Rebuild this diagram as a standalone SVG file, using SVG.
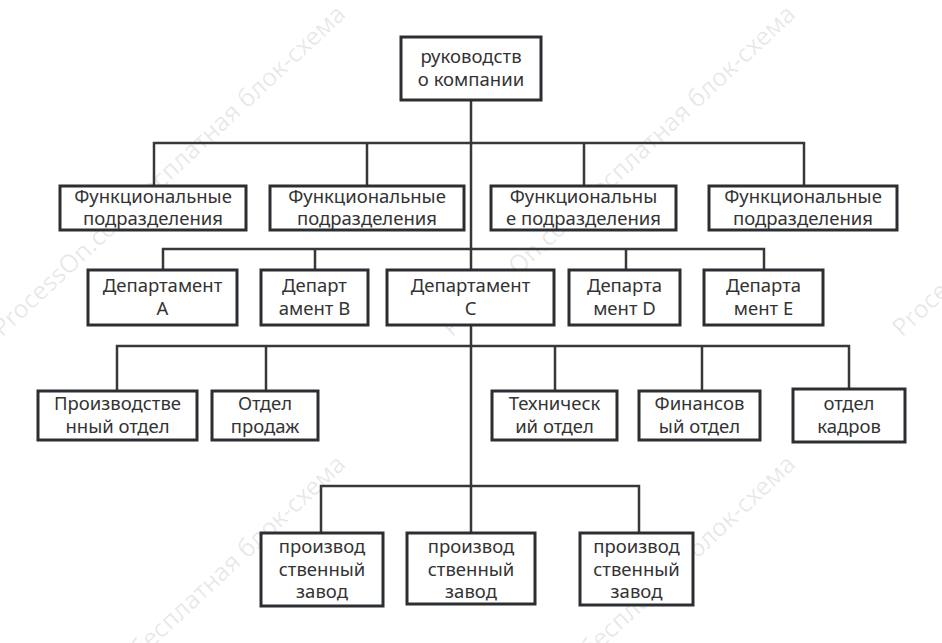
<svg xmlns="http://www.w3.org/2000/svg" width="942" height="643" viewBox="0 0 942 643">
<style>
.bg{fill:#ffffff}
.wm{font-family:"Noto Sans","Open Sans",sans-serif;font-size:25px;fill:#000;fill-opacity:0.09}
.box{fill:#ffffff;stroke:#2b2f33;stroke-width:3}
.lbl{font-family:"Noto Sans","Open Sans","DejaVu Sans",sans-serif;font-size:18.5px;fill:#333333;text-anchor:middle}
.con{fill:none;stroke:#383838;stroke-width:2.5}
</style>
<rect class="bg" x="0" y="0" width="942" height="643"/>
<g id="watermark">
<text class="wm" transform="translate(2,338) rotate(-43)">ProcessOn.com бесплатная блок-схема</text>
<text class="wm" transform="translate(452,338) rotate(-43)">ProcessOn.com бесплатная блок-схема</text>
<text class="wm" transform="translate(902,338) rotate(-43)">ProcessOn.com бесплатная блок-схема</text>
<text class="wm" transform="translate(2,788) rotate(-43)">ProcessOn.com бесплатная блок-схема</text>
<text class="wm" transform="translate(452,788) rotate(-43)">ProcessOn.com бесплатная блок-схема</text>
</g>
<g id="connectors">
<path class="con" d="M471,100 V533"/>
<path class="con" d="M154,186 V143 H804 V186 M367,143 V186 M584,143 V186"/>
<path class="con" d="M163,270 V249 H764 V270 M315,249 V270 M626,249 V270"/>
<path class="con" d="M117,391 V346 H849 V389 M266,346 V391 M555,346 V391 M702,346 V391"/>
<path class="con" d="M321,533 V486 H639 V533"/>
</g>
<g id="n-top"><rect class="box" x="401" y="37" width="140" height="63"/><text class="lbl"><tspan x="471" y="63">руководств</tspan><tspan x="471" y="86">о компании</tspan></text></g>
<g id="n-f1"><rect class="box" x="60" y="186" width="186" height="44"/><text class="lbl"><tspan x="153" y="203">Функциональные</tspan><tspan x="153" y="225">подразделения</tspan></text></g>
<g id="n-f2"><rect class="box" x="270" y="186" width="194" height="44"/><text class="lbl"><tspan x="367" y="203">Функциональные</tspan><tspan x="367" y="225">подразделения</tspan></text></g>
<g id="n-f3"><rect class="box" x="491" y="186" width="185" height="44"/><text class="lbl"><tspan x="583.5" y="203">Функциональны</tspan><tspan x="583.5" y="225">е подразделения</tspan></text></g>
<g id="n-f4"><rect class="box" x="709" y="186" width="188" height="44"/><text class="lbl"><tspan x="803" y="203">Функциональные</tspan><tspan x="803" y="225">подразделения</tspan></text></g>
<g id="n-da"><rect class="box" x="88" y="270" width="149" height="55"/><text class="lbl"><tspan x="162.5" y="292">Департамент</tspan><tspan x="162.5" y="315">A</tspan></text></g>
<g id="n-db"><rect class="box" x="261" y="270" width="107" height="55"/><text class="lbl"><tspan x="314.5" y="292">Департ</tspan><tspan x="314.5" y="315">амент B</tspan></text></g>
<g id="n-dc"><rect class="box" x="387" y="270" width="167" height="55"/><text class="lbl"><tspan x="470.5" y="292">Департамент</tspan><tspan x="470.5" y="315">C</tspan></text></g>
<g id="n-dd"><rect class="box" x="569" y="270" width="111" height="55"/><text class="lbl"><tspan x="624.5" y="292">Департа</tspan><tspan x="624.5" y="315">мент D</tspan></text></g>
<g id="n-de"><rect class="box" x="704" y="270" width="119" height="55"/><text class="lbl"><tspan x="763.5" y="292">Департа</tspan><tspan x="763.5" y="315">мент E</tspan></text></g>
<g id="n-prod"><rect class="box" x="38" y="391" width="159" height="49"/><text class="lbl"><tspan x="117.5" y="410">Производстве</tspan><tspan x="117.5" y="433">нный отдел</tspan></text></g>
<g id="n-sales"><rect class="box" x="212" y="391" width="106" height="49"/><text class="lbl"><tspan x="265" y="410">Отдел</tspan><tspan x="265" y="433">продаж</tspan></text></g>
<g id="n-tech"><rect class="box" x="492" y="391" width="125" height="49"/><text class="lbl"><tspan x="554.5" y="410">Техническ</tspan><tspan x="554.5" y="433">ий отдел</tspan></text></g>
<g id="n-fin"><rect class="box" x="639" y="391" width="121" height="49"/><text class="lbl"><tspan x="699.5" y="410">Финансов</tspan><tspan x="699.5" y="433">ый отдел</tspan></text></g>
<g id="n-hr"><rect class="box" x="793" y="389" width="112" height="53"/><text class="lbl"><tspan x="849" y="410">отдел</tspan><tspan x="849" y="433">кадров</tspan></text></g>
<g id="n-p1"><rect class="box" x="261" y="533" width="122" height="73"/><text class="lbl"><tspan x="322" y="553">производ</tspan><tspan x="322" y="576">ственный</tspan><tspan x="322" y="598">завод</tspan></text></g>
<g id="n-p2"><rect class="box" x="407" y="533" width="128" height="71"/><text class="lbl"><tspan x="471" y="553">производ</tspan><tspan x="471" y="576">ственный</tspan><tspan x="471" y="598">завод</tspan></text></g>
<g id="n-p3"><rect class="box" x="580" y="533" width="113" height="72"/><text class="lbl"><tspan x="636.5" y="553">производ</tspan><tspan x="636.5" y="576">ственный</tspan><tspan x="636.5" y="598">завод</tspan></text></g>
</svg>
